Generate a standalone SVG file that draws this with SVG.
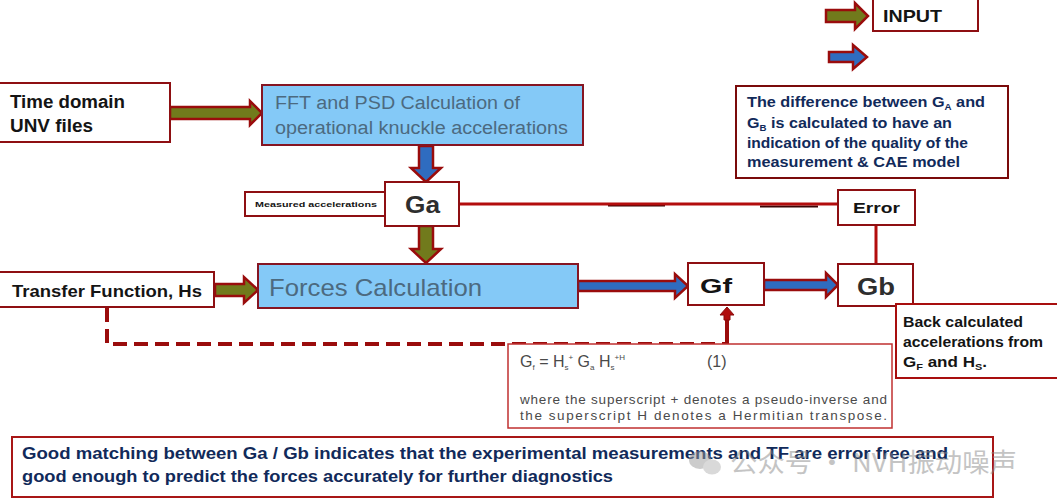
<svg xmlns="http://www.w3.org/2000/svg" width="1057" height="501" viewBox="0 0 1057 501">
<style>
.box{fill:#fff;stroke:#8e0f12;stroke-width:2}
.bbox{fill:#84c9f7;stroke:#861522;stroke-width:2}
.lbl{font-family:"Liberation Sans",Arial,sans-serif;font-weight:bold;fill:#141414}
.blu{font-family:"Liberation Sans",Arial,sans-serif;fill:#4c6a80}
.nav{font-family:"Liberation Sans",Arial,sans-serif;font-weight:bold;fill:#112a5a}
.frm{font-family:"Liberation Sans",Arial,sans-serif;fill:#4a4a4a}
.ao{fill:#717a1c;stroke:#9a0c0c;stroke-width:2.5}
.ab{fill:#2f6cc0;stroke:#9a0c0c;stroke-width:2.5}
.ln{fill:none;stroke:#b30d0d;stroke-width:3}
.dash{fill:none;stroke:#9a0c0c;stroke-width:4;stroke-dasharray:14 7}
</style>

<g id="legend">
  <path class="ao" d="M826 10 H855 V3 L868 16 L855 29 V22 H826 Z"/>
  <path class="ab" d="M829 52 H853 V45 L867 57 L853 69 V62 H829 Z"/>
  <rect class="box" x="873" y="-2" width="105" height="33"/>
  <text class="lbl" x="883" y="22" font-size="17" textLength="59" lengthAdjust="spacingAndGlyphs">INPUT</text>
</g>

<g id="note">
  <rect class="box" x="736" y="86" width="272" height="92" stroke-width="2.5" style="stroke:#7a0a0a"/>
  <text class="nav" x="747" y="107" font-size="15" textLength="238" lengthAdjust="spacingAndGlyphs">The difference between G<tspan font-size="9" dy="3">A</tspan><tspan dy="-3"> and</tspan></text>
  <text class="nav" x="747" y="128" font-size="15" textLength="205" lengthAdjust="spacingAndGlyphs">G<tspan font-size="9" dy="3">B</tspan><tspan dy="-3"> is calculated to have an</tspan></text>
  <text class="nav" x="747" y="148" font-size="15" textLength="221" lengthAdjust="spacingAndGlyphs">indication of the quality of the</text>
  <text class="nav" x="747" y="167" font-size="15" textLength="213" lengthAdjust="spacingAndGlyphs">measurement &amp; CAE model</text>
</g>

<g id="connectors">
  <path class="ao" d="M170 107 H250 V101 L262 113 L250 125 V119 H170 Z"/>
  <path class="ab" d="M419 146 V168 H411 L426 182 L441 168 H433 V146 Z"/>
  <path class="ao" d="M419 226 V249 H411 L426 263 L441 249 H433 V226 Z"/>
  <path class="ao" d="M215 284 H244 V277 L258 290 L244 303 V296 H215 Z"/>
  <path class="ab" d="M578 281 H675 V274 L688 286 L675 298 V291 H578 Z"/>
  <path class="ab" d="M764 280 H826 V273 L838 285 L826 297 V290 H764 Z"/>
  <line x1="608" y1="205.5" x2="665" y2="205.5" stroke="#3a0505" stroke-width="2"/>
  <line x1="760" y1="206.5" x2="818" y2="206.5" stroke="#3a0505" stroke-width="2"/>
  <line class="ln" x1="459" y1="204" x2="838" y2="204"/>
  <line class="ln" x1="876" y1="225" x2="876" y2="264"/>
  <path class="dash" d="M107 308 V344 H727"/>
  <line x1="727" y1="346" x2="727" y2="320" stroke="#9a0c0c" stroke-width="4"/>
  <path d="M727 307 L734 315 L730 315 L730 320 L724 320 L724 315 L720 315 Z" fill="#b00d0d" stroke="#8a0b0b" stroke-width="1"/>
</g>

<g id="time-domain">
  <rect class="box" x="-2" y="83" width="172" height="59"/>
  <text class="lbl" x="10" y="108" font-size="18" textLength="115" lengthAdjust="spacingAndGlyphs">Time domain</text>
  <text class="lbl" x="10" y="132" font-size="18" textLength="83" lengthAdjust="spacingAndGlyphs">UNV files</text>
</g>

<g id="fft">
  <rect class="bbox" x="262" y="85" width="321" height="60"/>
  <text class="blu" x="275" y="109" font-size="18" textLength="245" lengthAdjust="spacingAndGlyphs">FFT and PSD Calculation of</text>
  <text class="blu" x="275" y="134" font-size="18" textLength="293" lengthAdjust="spacingAndGlyphs">operational knuckle accelerations</text>
</g>

<g id="measured">
  <rect class="box" x="245" y="192" width="148" height="24"/>
  <text class="lbl" x="255" y="207" font-size="8" textLength="122" lengthAdjust="spacingAndGlyphs">Measured accelerations</text>
</g>

<g id="ga">
  <rect class="box" x="385" y="182" width="74" height="44"/>
  <text class="lbl" x="405" y="213" font-size="23" style="fill:#2e2e2e" textLength="35" lengthAdjust="spacingAndGlyphs">Ga</text>
</g>

<g id="transfer">
  <rect class="box" x="-2" y="272" width="216" height="35"/>
  <text class="lbl" x="12" y="297" font-size="17" textLength="190" lengthAdjust="spacingAndGlyphs">Transfer Function, Hs</text>
</g>

<g id="forces">
  <rect class="bbox" x="258" y="264" width="320" height="44"/>
  <text class="blu" x="269" y="296" font-size="24" textLength="213" lengthAdjust="spacingAndGlyphs">Forces Calculation</text>
</g>

<g id="gf">
  <rect class="box" x="688" y="263" width="76" height="42"/>
  <text class="lbl" x="700" y="293" font-size="21" textLength="32" lengthAdjust="spacingAndGlyphs">Gf</text>
</g>

<g id="error">
  <rect class="box" x="838" y="190" width="77" height="35"/>
  <text class="lbl" x="853" y="213" font-size="15" textLength="47" lengthAdjust="spacingAndGlyphs">Error</text>
</g>

<g id="gb">
  <rect class="box" x="838" y="264" width="75" height="42"/>
  <text class="lbl" x="857" y="295" font-size="23" style="fill:#2e2e2e" textLength="38" lengthAdjust="spacingAndGlyphs">Gb</text>
</g>

<g id="back-calc">
  <rect x="896" y="304" width="170" height="74" fill="#fff" stroke="#a80e0e" stroke-width="2"/>
  <text class="lbl" x="903" y="327" font-size="14" textLength="120" lengthAdjust="spacingAndGlyphs">Back calculated</text>
  <text class="lbl" x="903" y="347" font-size="14" textLength="140" lengthAdjust="spacingAndGlyphs">accelerations from</text>
  <text class="lbl" x="903" y="367" font-size="14" textLength="84" lengthAdjust="spacingAndGlyphs">G<tspan font-size="9" dy="3">F</tspan><tspan dy="-3"> and H</tspan><tspan font-size="9" dy="3">S</tspan><tspan dy="-3">.</tspan></text>
</g>

<g id="formula">
  <rect x="508" y="344" width="384" height="84" fill="#fff" stroke="#c03030" stroke-width="1.5"/>
  <text class="frm" x="520" y="367" font-size="16">G<tspan font-size="8" dy="3">f</tspan><tspan dy="-3"> = H</tspan><tspan font-size="8" dy="3">s</tspan><tspan font-size="8" dy="-10">+</tspan><tspan dy="7"> G</tspan><tspan font-size="8" dy="3">a</tspan><tspan dy="-3"> H</tspan><tspan font-size="8" dy="3">s</tspan><tspan font-size="8" dy="-10">+H</tspan></text>
  <text class="frm" x="707" y="367" font-size="16">(1)</text>
  <text class="frm" x="520" y="404" font-size="13.5" textLength="367" lengthAdjust="spacing">where the superscript + denotes a pseudo-inverse and</text>
  <text class="frm" x="520" y="420" font-size="13.5" textLength="367" lengthAdjust="spacing">the superscript H denotes a Hermitian transpose.</text>
</g>

<g id="conclusion">
  <rect x="12" y="437" width="981" height="60" fill="#fff" stroke="#a81616" stroke-width="2"/>
  <text class="nav" x="22" y="459" font-size="16" textLength="926" lengthAdjust="spacingAndGlyphs">Good matching between Ga / Gb indicates that the experimental measurements and TF are error free and</text>
  <text class="nav" x="22" y="482" font-size="16" textLength="591" lengthAdjust="spacingAndGlyphs">good enough to predict the forces accurately for further diagnostics</text>
</g>

<g id="watermark" opacity="0.5">
  <ellipse cx="700" cy="460" rx="11" ry="9" fill="#9a9a9a"/>
  <ellipse cx="712" cy="467" rx="9" ry="7.5" fill="#b5b5b5"/>
  <text x="730" y="472" font-size="26" fill="#8a8a8a" font-family="'Noto Sans CJK SC','Liberation Sans',sans-serif" textLength="287" lengthAdjust="spacingAndGlyphs">公众号 · NVH振动噪声</text>
</g>
</svg>
